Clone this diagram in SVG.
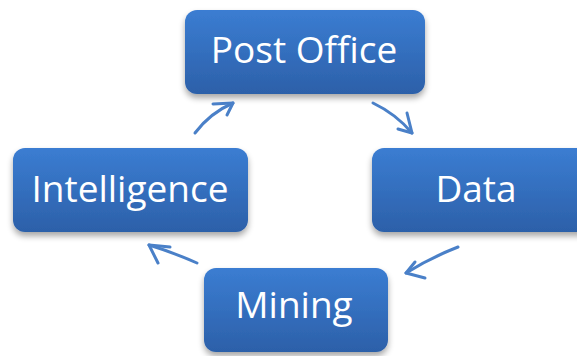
<svg xmlns="http://www.w3.org/2000/svg" width="577" height="356" viewBox="0 0 577 356">
  <style>
    .box { fill: url(#boxFill); filter: url(#shadow); }
    .label { fill: #ffffff; font-family: "Open Sans", "Liberation Sans", sans-serif; font-size: 37px; text-anchor: middle; }
    .arrow { fill: none; stroke: #4a80c8; stroke-width: 3; stroke-linecap: round; stroke-linejoin: round; }
  </style>
  <defs>
    <linearGradient id="boxFill" x1="0" y1="0" x2="0" y2="1">
      <stop offset="0" stop-color="#3b7dd2"/>
      <stop offset="1" stop-color="#2c60a9"/>
    </linearGradient>
    <filter id="shadow" x="-10%" y="-20%" width="120%" height="150%">
      <feGaussianBlur in="SourceAlpha" stdDeviation="3"/>
      <feOffset dx="0" dy="4" result="blur"/>
      <feComponentTransfer><feFuncA type="linear" slope="0.35"/></feComponentTransfer>
      <feMerge><feMergeNode/><feMergeNode in="SourceGraphic"/></feMerge>
    </filter>
  </defs>

  <rect width="577" height="356" fill="#ffffff"/>

  <g id="post-office">
    <rect class="box" x="185" y="10" width="240" height="84" rx="12"/>
    <text class="label" x="304" y="63">Post Office</text>
  </g>

  <g id="data">
    <rect class="box" x="372" y="148" width="236" height="84" rx="12"/>
    <text class="label" x="476" y="202">Data</text>
  </g>

  <g id="mining">
    <rect class="box" x="204" y="268" width="184" height="84" rx="12"/>
    <text class="label" x="294" y="318">Mining</text>
  </g>

  <g id="intelligence">
    <rect class="box" x="13" y="148" width="235" height="84" rx="12"/>
    <text class="label" x="130" y="202">Intelligence</text>
  </g>

  <g id="connectors">
    <!-- Intelligence to Post Office -->
    <path class="arrow" d="M195,133 Q210,113 233,103"/>
    <path class="arrow" d="M213,104 L233,103 L227,115"/>
    <!-- Post Office to Data -->
    <path class="arrow" d="M373,103 Q396,114 412,133"/>
    <path class="arrow" d="M407,113 L412,133 L398,129"/>
    <!-- Data to Mining -->
    <path class="arrow" d="M458,247 Q430,258 406,273"/>
    <path class="arrow" d="M415,262 L406,273 L425,278"/>
    <!-- Mining to Intelligence -->
    <path class="arrow" d="M197,263 Q172,252 149,245"/>
    <path class="arrow" d="M170,247 L149,245 L158,263"/>
  </g>
</svg>
